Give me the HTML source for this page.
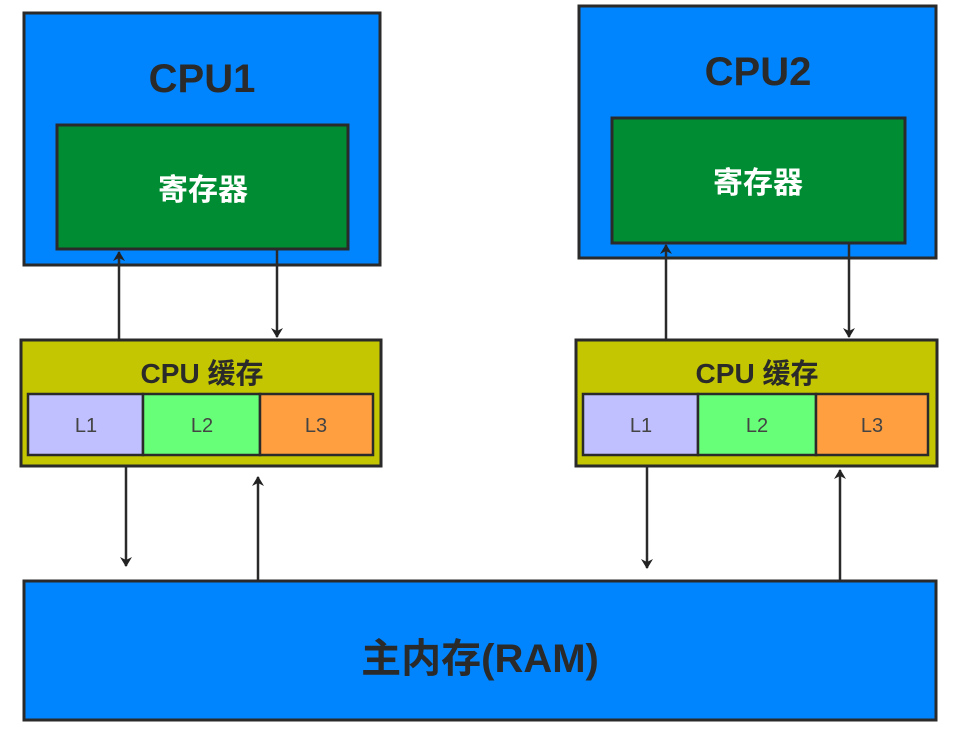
<!DOCTYPE html>
<html><head><meta charset="utf-8"><style>
body{margin:0;background:#fff;width:966px;height:730px;overflow:hidden}
svg text{font-family:"Liberation Sans","Noto Sans CJK SC",sans-serif;font-weight:bold}
</style></head><body>
<svg width="966" height="730" viewBox="0 0 966 730">
<defs><marker id="a" markerWidth="10" markerHeight="12" refX="9" refY="6" orient="auto" markerUnits="userSpaceOnUse">
<path d="M0,0 L10,6 L0,12 L3,6 Z" fill="#222"/></marker></defs>
<g stroke="#2a2a2a" stroke-width="3">
<rect x="24" y="13" width="356" height="252" fill="#0085ff"/>
<rect x="57" y="125" width="291" height="124" fill="#008c33"/>
<rect x="579" y="6" width="357" height="252" fill="#0085ff"/>
<rect x="612" y="118" width="293" height="125" fill="#008c33"/>
<rect x="21" y="340" width="360" height="126" fill="#c3c600"/>
<rect x="576" y="340" width="361" height="126" fill="#c3c600"/>
<rect x="24" y="581" width="912" height="139" fill="#0085ff"/>
</g>
<g stroke="#2a2a2a" stroke-width="2.5">
<rect x="28" y="394" width="115" height="61" fill="#c0bfff"/>
<rect x="143" y="394" width="117" height="61" fill="#66ff77"/>
<rect x="260" y="394" width="113" height="61" fill="#ff9f40"/>
<rect x="583" y="394" width="115" height="61" fill="#c0bfff"/>
<rect x="698" y="394" width="118" height="61" fill="#66ff77"/>
<rect x="816" y="394" width="112" height="61" fill="#ff9f40"/>
</g>
<g stroke="#2a2a2a" stroke-width="2.5" marker-end="url(#a)">
<line x1="119" y1="340" x2="119" y2="252"/>
<line x1="277" y1="249" x2="277" y2="337"/>
<line x1="666" y1="340" x2="666" y2="245"/>
<line x1="849" y1="243" x2="849" y2="337"/>
<line x1="126" y1="466" x2="126" y2="566"/>
<line x1="258" y1="581" x2="258" y2="477"/>
<line x1="647" y1="466" x2="647" y2="568"/>
<line x1="840" y1="581" x2="840" y2="470"/>
</g>
<g fill="#2a2a2a" text-anchor="middle">
<text x="202" y="92" font-size="40">CPU1</text>
<text x="758" y="85" font-size="40">CPU2</text>
<text x="202" y="383" font-size="28">CPU 缓存</text>
<text x="757" y="383" font-size="28">CPU 缓存</text>
<text x="480" y="672" font-size="40">主内存(RAM)</text>
</g>
<g fill="#fff" text-anchor="middle" font-size="30">
<text x="203" y="200">寄存器</text>
<text x="758" y="193">寄存器</text>
</g>
<g fill="#444" text-anchor="middle" font-size="20" style="font-weight:normal">
<text x="86" y="432" style="font-weight:normal">L1</text>
<text x="202" y="432" style="font-weight:normal">L2</text>
<text x="316" y="432" style="font-weight:normal">L3</text>
<text x="641" y="432" style="font-weight:normal">L1</text>
<text x="757" y="432" style="font-weight:normal">L2</text>
<text x="872" y="432" style="font-weight:normal">L3</text>
</g>
</svg>
</body></html>
